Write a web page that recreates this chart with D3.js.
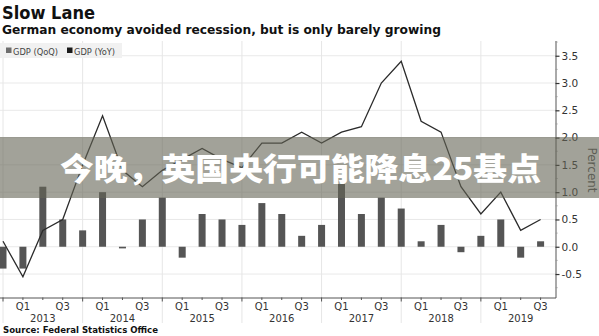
<!DOCTYPE html>
<html>
<head>
<meta charset="utf-8">
<script src="https://cdn.jsdelivr.net/npm/d3@7"></script>
<style>
  html, body { margin: 0; padding: 0; background: #fff; }
  svg { display: block; }
</style>
</head>
<body>
<script>
// ---- data ----
const periods = ["2012 Q4","2013 Q1","2013 Q2","2013 Q3","2013 Q4","2014 Q1","2014 Q2","2014 Q3","2014 Q4",
  "2015 Q1","2015 Q2","2015 Q3","2015 Q4","2016 Q1","2016 Q2","2016 Q3","2016 Q4",
  "2017 Q1","2017 Q2","2017 Q3","2017 Q4","2018 Q1","2018 Q2","2018 Q3","2018 Q4",
  "2019 Q1","2019 Q2","2019 Q3"];
const gdpQoQ = [-0.4,-0.4,1.1,0.5,0.3,1.0,-0.03,0.5,0.9,-0.2,0.6,0.5,0.4,0.8,0.6,0.2,0.4,
  1.15,0.6,0.9,0.7,0.1,0.4,-0.1,0.2,0.5,-0.2,0.1];
const gdpYoY = [0.1,-0.55,0.3,0.5,1.5,2.4,1.4,1.1,1.4,1.6,1.8,1.6,1.45,1.9,1.9,2.1,1.9,
  2.1,2.2,3.0,3.4,2.3,2.1,1.1,0.6,1.0,0.3,0.5];
const years = ["2013","2014","2015","2016","2017","2018","2019"];
const quarterLabels = ["Q1","Q3"];
const yTicks = [-0.5,0,0.5,1,1.5,2,2.5,3,3.5];
const legendItems = ["GDP (QoQ)","GDP (YoY)"];
const title = "Slow Lane";
const subtitle = "German economy avoided recession, but is only barely growing";
const source = "Source: Federal Statistics Office";
const overlayText = "今晚，英国央行可能降息25基点";

// ---- layout ----
const W = 599, H = 336;
const plot = {left: 0, right: 555.5, top: 41, bottom: 297.5};
const svg = d3.select("body").append("svg").attr("width", W).attr("height", H);
const font = "'DejaVu Sans', Verdana, sans-serif";

const x = d3.scaleLinear().domain([0, periods.length - 1]).range([3, 540.6]);
const y = d3.scaleLinear().domain([-0.93, 3.77]).range([plot.bottom, plot.top]);

const idx = periods.map((p, i) => i);

// gridlines
const grid = svg.append("g");
grid.selectAll("line.h").data(yTicks).join("line")
  .attr("x1", plot.left).attr("x2", plot.right)
  .attr("y1", d => y(d)).attr("y2", d => y(d))
  .attr("stroke", "#e9e9e9").attr("stroke-width", 1);
const yearIdx = years.map((yr, k) => periods.indexOf((+yr - 1) + " Q4"));
grid.selectAll("line.v").data(yearIdx).join("line")
  .attr("x1", d => x(d)).attr("x2", d => x(d))
  .attr("y1", plot.top).attr("y2", 323)
  .attr("stroke", "#e6e6e6").attr("stroke-width", 1);

// bars (QoQ)
const bw = 7;
svg.append("g").selectAll("rect").data(idx).join("rect")
  .attr("x", i => x(i) - bw / 2)
  .attr("width", bw)
  .attr("y", i => y(Math.max(0, gdpQoQ[i])))
  .attr("height", i => Math.abs(y(gdpQoQ[i]) - y(0)))
  .attr("fill", "#555555");

// line (YoY)
svg.append("path").datum(idx)
  .attr("d", d3.line().x(i => x(i)).y(i => y(gdpYoY[i])))
  .attr("fill", "none").attr("stroke", "#2b2b2b").attr("stroke-width", 1.3);

// legend
const lg = svg.append("g");
lg.append("rect").attr("x", 0).attr("y", 43).attr("width", 122).attr("height", 15).attr("fill", "#f1f1f1");
const legendX = [6, 67];
const legendCol = ["#6e6e6e", "#1a1a1a"];
legendItems.forEach((t, k) => {
  lg.append("rect").attr("x", legendX[k]).attr("y", 47.5).attr("width", 5.5).attr("height", 5.5).attr("fill", legendCol[k]);
  lg.append("text").attr("x", legendX[k] + 7).attr("y", 54.5).text(t)
    .attr("font-family", font).attr("font-size", 8.3).attr("fill", "#444");
});

// right axis
const yAxis = d3.axisRight(y).tickValues(yTicks).tickSize(4).tickPadding(2)
  .tickFormat(d => d3.format(".1f")(d).replace("−", "-"));
const ya = svg.append("g").attr("transform", `translate(${plot.right},0)`).call(yAxis);
ya.select(".domain").attr("d", `M0.5,${plot.top}V${plot.bottom + 0.5}`).attr("stroke", "#555");
ya.selectAll(".tick line").attr("stroke", "#333").attr("stroke-width", 1.2);
ya.selectAll(".tick text").attr("font-family", font).attr("font-size", 10.5).attr("fill", "#333");
// minor ticks
const minorY = yTicks.map(v => v + 0.25).concat([-0.75]);
ya.selectAll("line.minor").data(minorY).join("line")
  .attr("x1", 0).attr("x2", 2).attr("y1", d => y(d)).attr("y2", d => y(d))
  .attr("stroke", "#999");

svg.append("text").attr("transform", `translate(588,170) rotate(90)`)
  .attr("text-anchor", "middle").attr("font-family", font).attr("font-size", 12)
  .attr("fill", "#555").text("Percent");

// bottom axis
const xa = svg.append("g");
xa.append("line").attr("x1", 0).attr("x2", plot.right + 0.5)
  .attr("y1", plot.bottom + 0.5).attr("y2", plot.bottom + 0.5).attr("stroke", "#555");
xa.selectAll("line.qt").data(idx).join("line")
  .attr("x1", i => x(i)).attr("x2", i => x(i))
  .attr("y1", plot.bottom).attr("y2", i => plot.bottom + (yearIdx.includes(i) ? 4 : 2.5))
  .attr("stroke", "#555");
const qIdx = idx.filter(i => quarterLabels.includes(periods[i].slice(5)));
xa.selectAll("text.q").data(qIdx).join("text")
  .attr("x", i => x(i)).attr("y", 310)
  .attr("text-anchor", "middle").attr("font-family", font).attr("font-size", 10).attr("fill", "#333")
  .text(i => periods[i].slice(5));
xa.selectAll("text.yr").data(years).join("text")
  .attr("x", d => x(periods.indexOf(d + " Q2"))).attr("y", 322)
  .attr("text-anchor", "middle").attr("font-family", font).attr("font-size", 10).attr("fill", "#333")
  .text(d => d);

// titles
svg.append("text").attr("x", 2).attr("y", 18.5).text(title)
  .attr("font-family", font).attr("font-weight", "bold").attr("font-size", 18).attr("fill", "#111")
  .attr("textLength", 93).attr("lengthAdjust", "spacingAndGlyphs");
svg.append("text").attr("x", 2).attr("y", 33.5).text(subtitle)
  .attr("font-family", font).attr("font-weight", "bold").attr("font-size", 13).attr("fill", "#111")
  .attr("textLength", 439).attr("lengthAdjust", "spacingAndGlyphs");
svg.append("text").attr("x", 3).attr("y", 333).text(source)
  .attr("font-family", font).attr("font-weight", "bold").attr("font-size", 9.3).attr("fill", "#111")
  .attr("textLength", 155).attr("lengthAdjust", "spacingAndGlyphs");

// overlay band
svg.append("rect").attr("x", 0).attr("y", 137).attr("width", W).attr("height", 61)
  .attr("fill", "rgba(100,100,85,0.6)");
svg.append("text").attr("x", 60).attr("y", 180).text(overlayText)
  .attr("font-family", "'Noto Sans CJK SC', sans-serif").attr("font-weight", 900)
  .attr("font-size", 31).attr("fill", "#fff")
  .attr("textLength", 481).attr("lengthAdjust", "spacingAndGlyphs");
</script>
</body>
</html>
